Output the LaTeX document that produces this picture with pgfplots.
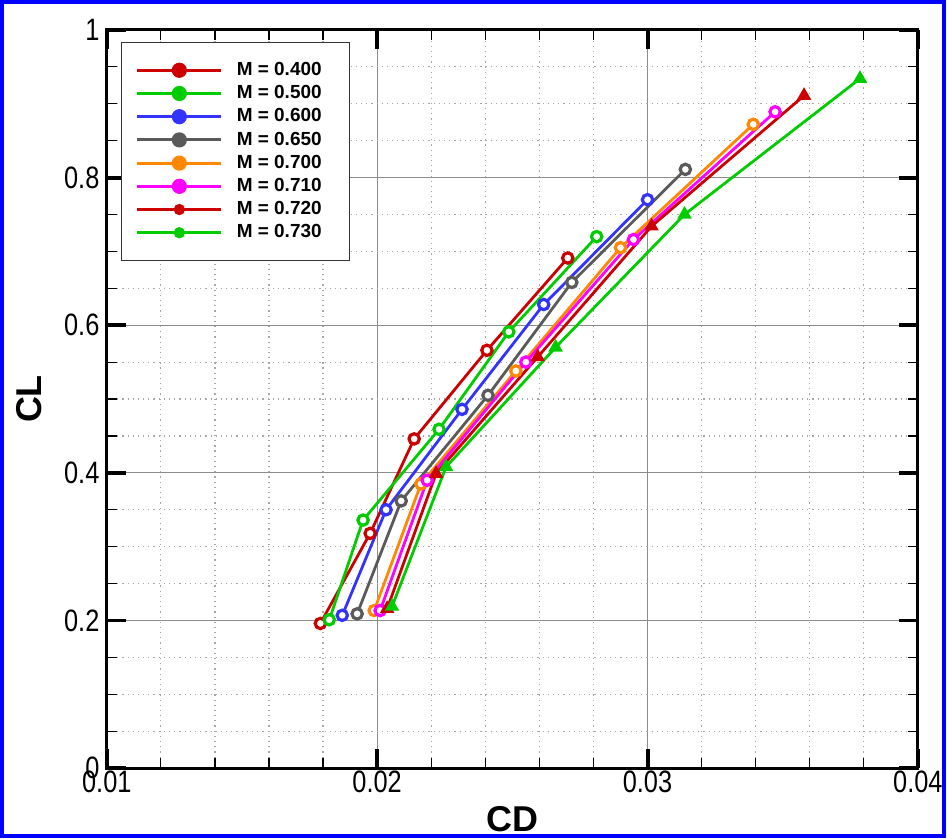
\documentclass[border=0pt]{standalone}
\usepackage{fontspec}
\setmainfont{Liberation Sans}
\usepackage{pgfplots}
\pgfplotsset{compat=1.18}

\definecolor{cRed}{RGB}{204,0,0}
\definecolor{cGreen}{RGB}{0,204,0}
\definecolor{cBlue}{RGB}{51,51,255}
\definecolor{cGray}{RGB}{90,90,90}
\definecolor{cOrange}{RGB}{255,136,0}
\definecolor{cMag}{RGB}{255,0,255}

\pgfplotsset{
  ring/.style={line width=1.4pt, mark=*, mark size=2.6pt,
    mark options={solid, fill=white, line width=1.6pt}},
  tri/.style={line width=1.4pt, mark=triangle*, mark size=2.8pt,
    mark options={solid}},
  leg/.style={line width=1.6pt, mark=*, mark size=#1},
}

\begin{document}
\begin{tikzpicture}
\begin{axis}[
  scale only axis,
  width=406.5pt, height=370pt,
  xmin=0.01, xmax=0.04, ymin=0, ymax=1,
  scaled x ticks=false, scaled y ticks=false,
  xtick={0.01,0.02,0.03,0.04},
  xticklabels={0.01,0.02,0.03,0.04},
  ytick={0,0.2,0.4,0.6,0.8,1},
  yticklabels={0,0.2,0.4,0.6,0.8,1},
  minor x tick num=4,
  minor y tick num=3,
  tick align=inside,
  major tick length=9.5pt,
  minor tick length=5pt,
  every major tick/.style={black, line width=2pt},
  every minor tick/.style={black, line width=0.6pt},
  axis line style={line width=1.5pt},
  grid=both,
  major grid style={gray!90, line width=0.5pt, solid},
  minor grid style={gray!70, line width=0.6pt, dotted},
  tick label style={font=\fontsize{15.5}{15.5}\selectfont, xscale=0.82},
  xticklabel style={yshift=2pt},
  yticklabel style={xshift=-1pt},
  xlabel={\textbf{CD}}, ylabel={\textbf{CL}},
  label style={font=\fontsize{18}{18}\selectfont},
  xlabel style={yshift=0pt},
  ylabel style={yshift=5pt},
  legend style={at={(0.018,0.984)}, anchor=north west,
    font=\fontsize{9.5}{11}\selectfont\bfseries,
    draw=black!80, line width=0.5pt, fill=white,
    inner xsep=7pt, inner ysep=8pt,
    row sep=-0.5pt,
    nodes={inner xsep=7pt}},
  legend cell align=left,
  legend image code/.code={%
    \draw[mark repeat=2, mark phase=2] plot coordinates {(0pt,0pt) (21pt,0pt) (42pt,0pt)};},
  clip=false,
]
\addplot[cRed, ring, forget plot] coordinates {
  (0.0179,0.196) (0.01974,0.318) (0.02137,0.446) (0.02406,0.566) (0.02705,0.691)};
\addplot[cGreen, ring, forget plot] coordinates {
  (0.01823,0.201) (0.01948,0.336) (0.02229,0.459) (0.02487,0.591) (0.02812,0.720)};
\addplot[cBlue, ring, forget plot] coordinates {
  (0.01871,0.207) (0.02033,0.350) (0.02314,0.486) (0.02616,0.628) (0.03000,0.770)};
\addplot[cGray, ring, forget plot] coordinates {
  (0.01926,0.209) (0.02089,0.362) (0.02410,0.505) (0.02720,0.658) (0.03140,0.811)};
\addplot[cOrange, ring, forget plot] coordinates {
  (0.01989,0.2135) (0.02162,0.385) (0.02513,0.538) (0.02900,0.705) (0.03391,0.872)};
\addplot[cMag, ring, forget plot] coordinates {
  (0.02011,0.2135) (0.02185,0.390) (0.02550,0.550) (0.02948,0.716) (0.03472,0.889)};
\addplot[cRed, tri, forget plot] coordinates {
  (0.02037,0.216) (0.02218,0.399) (0.02594,0.557) (0.03015,0.734) (0.03579,0.911)};
\addplot[cGreen, tri, forget plot] coordinates {
  (0.02055,0.219) (0.02255,0.408) (0.02660,0.570) (0.03137,0.750) (0.03786,0.934)};

\addlegendimage{cRed, leg=3pt}
\addlegendentry{M = 0.400}
\addlegendimage{cGreen, leg=3pt}
\addlegendentry{M = 0.500}
\addlegendimage{cBlue, leg=3pt}
\addlegendentry{M = 0.600}
\addlegendimage{cGray, leg=3pt}
\addlegendentry{M = 0.650}
\addlegendimage{cOrange, leg=3pt}
\addlegendentry{M = 0.700}
\addlegendimage{cMag, leg=3pt}
\addlegendentry{M = 0.710}
\addlegendimage{cRed, leg=2pt}
\addlegendentry{M = 0.720}
\addlegendimage{cGreen, leg=2pt}
\addlegendentry{M = 0.730}

\draw[blue, line width=2pt] (rel axis cs:-0.1292,-0.0919) rectangle (rel axis cs:1.032,1.0378);
\end{axis}
\end{tikzpicture}
\end{document}
